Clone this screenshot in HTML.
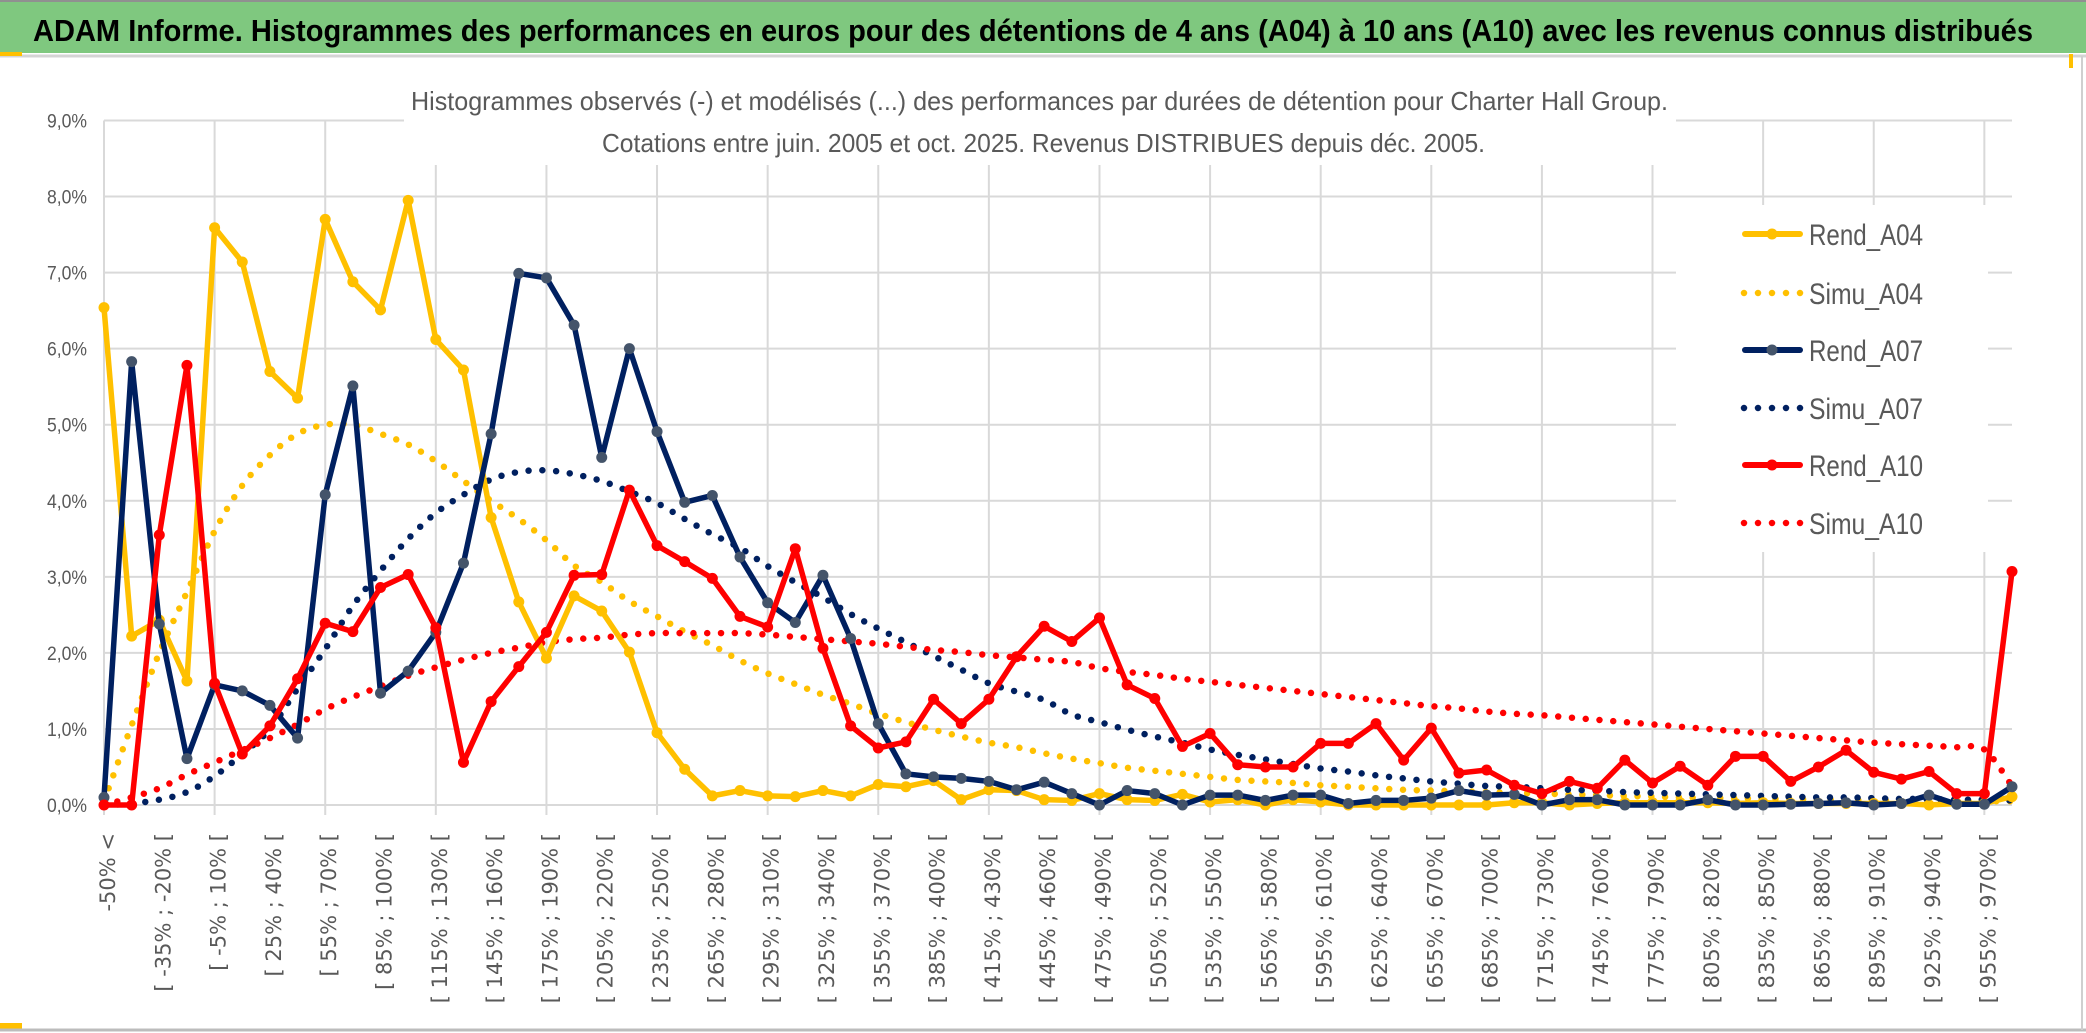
<!DOCTYPE html>
<html><head><meta charset="utf-8"><style>
html,body{margin:0;padding:0;background:#fff;}
svg{display:block;}
</style></head><body>
<svg id="chart" width="2086" height="1033" viewBox="0 0 2086 1033" xmlns="http://www.w3.org/2000/svg">
<rect x="0" y="0" width="2086" height="1033" fill="#fff"/>
<rect x="0" y="2" width="2086" height="51" fill="#7fc87f"/>
<line x1="0" y1="1" x2="2086" y2="1" stroke="#909090" stroke-width="2"/>
<line x1="0" y1="56" x2="2086" y2="56" stroke="#d4d4d4" stroke-width="3"/>
<rect x="0" y="52" width="22" height="4" fill="#ffc000"/>
<rect x="2069" y="54" width="4" height="14" fill="#ffc000"/>
<rect x="0" y="1023" width="22" height="7" fill="#ffc000"/>
<line x1="0" y1="1030" x2="2086" y2="1030" stroke="#bcbcbc" stroke-width="3"/>
<line x1="2082" y1="56" x2="2082" y2="1030" stroke="#cfcfcf" stroke-width="2"/>
<text x="33" y="41" font-family="Liberation Sans, sans-serif" font-weight="bold" font-size="31" fill="#000" textLength="2000" lengthAdjust="spacingAndGlyphs">ADAM Informe. Histogrammes des performances en euros pour des détentions de 4 ans (A04) à 10 ans (A10) avec les revenus connus distribués</text>
<g id="grid"></g>
<rect x="404" y="70" width="1272" height="95" fill="#fff"/>
<text x="411" y="110" font-family="Liberation Sans, sans-serif" font-size="26" fill="#595959" textLength="1257" lengthAdjust="spacingAndGlyphs">Histogrammes observés (-) et modélisés (...) des performances par durées de détention pour Charter Hall Group.</text>
<text x="602" y="152" font-family="Liberation Sans, sans-serif" font-size="26" fill="#595959" textLength="883" lengthAdjust="spacingAndGlyphs">Cotations entre juin. 2005 et oct. 2025. Revenus DISTRIBUES depuis déc. 2005.</text>
<g id="yaxis"></g>
<g id="xaxis"></g>
<g id="series"></g>
<g id="legend"></g>
</svg>
<script>
const yTickValues = [0,1,2,3,4,5,6,7,8,9];
const yTickLabels = ['0,0%','1,0%','2,0%','3,0%','4,0%','5,0%','6,0%','7,0%','8,0%','9,0%'];
const categories = ['-50% <'];
for (let k = 1; k < 70; k++) { const a = -50 + 15 * (k - 1); categories.push('[ ' + a + '% ; ' + (a + 15) + '% ['); }
const rendA04 = [6.54,2.22,2.43,1.63,7.59,7.14,5.70,5.35,7.70,6.88,6.51,7.95,6.12,5.72,3.78,2.67,1.93,2.75,2.55,2.01,0.95,0.47,0.12,0.19,0.12,0.11,0.19,0.12,0.27,0.24,0.32,0.07,0.2,0.19,0.07,0.06,0.15,0.07,0.06,0.14,0.04,0.07,0,0.07,0.04,0,0,0,0,0,0,0.03,0.03,0,0.02,0.03,0.03,0.03,0.03,0.02,0.03,0.02,0.02,0.02,0.02,0.02,0,0.02,0.02,0.11];
const rendA07 = [0.1,5.83,2.38,0.61,1.58,1.5,1.31,0.88,4.08,5.51,1.47,1.76,2.27,3.18,4.88,6.99,6.93,6.31,4.57,6.0,4.91,3.98,4.07,3.26,2.66,2.4,3.02,2.19,1.07,0.41,0.37,0.35,0.31,0.2,0.3,0.15,0,0.19,0.15,0,0.13,0.13,0.06,0.13,0.13,0.02,0.06,0.06,0.09,0.19,0.13,0.14,0,0.07,0.07,0,0,0,0.07,0,0,0.01,0.02,0.03,0,0.02,0.13,0.01,0.01,0.24];
const rendA10 = [0,0,3.55,5.78,1.60,0.67,1.04,1.66,2.39,2.28,2.86,3.03,2.33,0.56,1.36,1.82,2.27,3.02,3.03,4.14,3.41,3.20,2.98,2.48,2.34,3.37,2.06,1.04,0.75,0.83,1.39,1.07,1.39,1.95,2.35,2.15,2.46,1.58,1.40,0.77,0.94,0.53,0.50,0.50,0.81,0.81,1.07,0.59,1.01,0.42,0.46,0.26,0.15,0.31,0.22,0.59,0.29,0.51,0.26,0.64,0.64,0.31,0.50,0.72,0.43,0.34,0.44,0.15,0.15,3.07];
const simuA04 = [0.05,1.05,2.0,2.8,3.6,4.2,4.6,4.88,5.0,5.0,4.88,4.74,4.52,4.26,4.0,3.76,3.48,3.15,2.93,2.68,2.48,2.28,2.1,1.9,1.73,1.59,1.45,1.33,1.2,1.09,0.99,0.9,0.82,0.76,0.68,0.61,0.55,0.49,0.45,0.41,0.37,0.33,0.31,0.29,0.26,0.24,0.22,0.2,0.19,0.18,0.17,0.16,0.15,0.14,0.13,0.12,0.11,0.1,0.09,0.09,0.08,0.08,0.07,0.07,0.06,0.06,0.06,0.05,0.05,0.05];
const simuA07 = [0,0.02,0.07,0.17,0.38,0.67,1.0,1.53,2.05,2.62,3.08,3.5,3.84,4.08,4.28,4.38,4.4,4.35,4.26,4.12,3.97,3.76,3.56,3.38,3.14,2.93,2.73,2.51,2.32,2.14,1.96,1.78,1.6,1.49,1.38,1.19,1.09,0.99,0.9,0.82,0.73,0.66,0.6,0.54,0.48,0.44,0.39,0.35,0.31,0.28,0.25,0.24,0.22,0.2,0.19,0.17,0.16,0.15,0.14,0.13,0.12,0.11,0.1,0.1,0.09,0.08,0.08,0.07,0.07,0.06];
const simuA10 = [0,0.1,0.22,0.4,0.56,0.72,0.88,1.06,1.26,1.42,1.56,1.7,1.81,1.91,2.0,2.07,2.14,2.18,2.2,2.24,2.26,2.26,2.26,2.26,2.24,2.21,2.18,2.15,2.12,2.08,2.04,2.01,1.97,1.94,1.91,1.88,1.8,1.75,1.71,1.66,1.62,1.58,1.54,1.5,1.46,1.42,1.38,1.34,1.3,1.27,1.23,1.2,1.18,1.15,1.12,1.09,1.06,1.03,1.0,0.97,0.94,0.91,0.88,0.85,0.82,0.8,0.78,0.76,0.73,0.25];
const legendLabels = ['Rend_A04','Simu_A04','Rend_A07','Simu_A07','Rend_A10','Simu_A10'];

const NS = 'http://www.w3.org/2000/svg';
const X0 = 104, X1 = 2012, Y0 = 805, Y9 = 120.5;
function xPos(k){ return X0 + k * (X1 - X0) / (categories.length - 1); }
function yPos(v){ return Y0 - v * (Y0 - Y9) / 9; }
function mk(tag, attrs, parent){ const e = document.createElementNS(NS, tag); for (const a in attrs) e.setAttribute(a, attrs[a]); parent.appendChild(e); return e; }

const grid = document.getElementById('grid');
yTickValues.forEach((v, i) => {
  const l = mk('line', {x1: X0, x2: X1, y1: yPos(v), y2: yPos(v), stroke: '#d9d9d9', 'stroke-width': 2}, grid);
  
  
});
for (let k = 0; k < categories.length; k += 4) {
  const l = mk('line', {x1: xPos(k), x2: xPos(k), y1: Y9, y2: Y0 + 10, stroke: '#d9d9d9', 'stroke-width': 2}, grid);
  
  
}
const yaxis = document.getElementById('yaxis');
yTickValues.forEach((v, i) => {
  const t = mk('text', {x: 87, y: yPos(v) + 7, 'text-anchor': 'end', 'font-family': 'Liberation Sans, sans-serif', 'font-size': 19, fill: '#595959', textLength: 40, lengthAdjust: 'spacingAndGlyphs'}, yaxis);
  t.textContent = yTickLabels[i];
  
  
});
const xaxis = document.getElementById('xaxis');
for (let k = 0; k < categories.length; k += 2) {
  const cx = xPos(k) + 3;
  const t = mk('text', {transform: 'translate(' + (cx + 8) + ',833) rotate(-90)', 'text-anchor': 'end', 'font-family': 'DejaVu Sans, sans-serif', 'font-size': 21, fill: '#595959'}, xaxis);
  t.textContent = categories[k];
  
  
}

function smoothPath(vals){
  const p = vals.map((v, k) => [xPos(k), yPos(v)]);
  let d = 'M' + p[0][0] + ',' + p[0][1];
  for (let i = 0; i < p.length - 1; i++) {
    const a = p[Math.max(0, i - 1)], b = p[i], c = p[i + 1], e = p[Math.min(p.length - 1, i + 2)];
    const c1 = [b[0] + (c[0] - a[0]) / 6, b[1] + (c[1] - a[1]) / 6];
    const c2 = [c[0] - (e[0] - b[0]) / 6, c[1] - (e[1] - b[1]) / 6];
    d += ' C' + c1[0] + ',' + c1[1] + ' ' + c2[0] + ',' + c2[1] + ' ' + c[0] + ',' + c[1];
  }
  return d;
}
const series = document.getElementById('series');
function drawSim(vals, color, name){
  const p = mk('path', {d: smoothPath(vals), fill: 'none', stroke: color, 'stroke-width': 6.5, 'stroke-linecap': 'round', 'stroke-dasharray': '0 13.8'}, series);
  
  
}
function drawRend(vals, color, mcolor, name){
  const pts = vals.map((v, k) => xPos(k) + ',' + yPos(v)).join(' ');
  const pl = mk('polyline', {points: pts, fill: 'none', stroke: color, 'stroke-width': 5.5, 'stroke-linejoin': 'round'}, series);
  
  
  vals.forEach((v, k) => {
    const c = mk('circle', {cx: xPos(k), cy: yPos(v), r: 5.5, fill: mcolor}, series);
    
    
  });
}
drawSim(simuA04, '#ffc000', 'simu-a04-curve');
drawSim(simuA07, '#002060', 'simu-a07-curve');
drawSim(simuA10, '#ff0000', 'simu-a10-curve');
drawRend(rendA04, '#ffc000', '#ffc000', 'rend-a04');
drawRend(rendA07, '#002060', '#44546a', 'rend-a07');
drawRend(rendA10, '#ff0000', '#ff0000', 'rend-a10');

const legend = document.getElementById('legend');
const bg = mk('rect', {x: 1676, y: 205, width: 312, height: 347, fill: '#fff'}, legend);


const legColors = ['#ffc000','#ffc000','#002060','#002060','#ff0000','#ff0000'];
const legMarker = ['#ffc000', null, '#44546a', null, '#ff0000', null];
const legRows = [234, 293, 350, 408, 465, 523];
legendLabels.forEach((lab, i) => {
  const y = legRows[i];
  const g = mk('g', {}, legend);
  
  
  if (legMarker[i]) {
    mk('line', {x1: 1745, x2: 1800, y1: y, y2: y, stroke: legColors[i], 'stroke-width': 6, 'stroke-linecap': 'round'}, g);
    mk('circle', {cx: 1772, cy: y, r: 5.5, fill: legMarker[i]}, g);
  } else {
    mk('line', {x1: 1744, x2: 1802, y1: y, y2: y, stroke: legColors[i], 'stroke-width': 6.5, 'stroke-linecap': 'round', 'stroke-dasharray': '0 14'}, g);
  }
  const t = mk('text', {x: 1809, y: y + 11, 'font-family': 'Liberation Sans, sans-serif', 'font-size': 30, fill: '#595959', textLength: 114, lengthAdjust: 'spacingAndGlyphs'}, g);
  t.textContent = lab;
});
</script>
</body></html>
